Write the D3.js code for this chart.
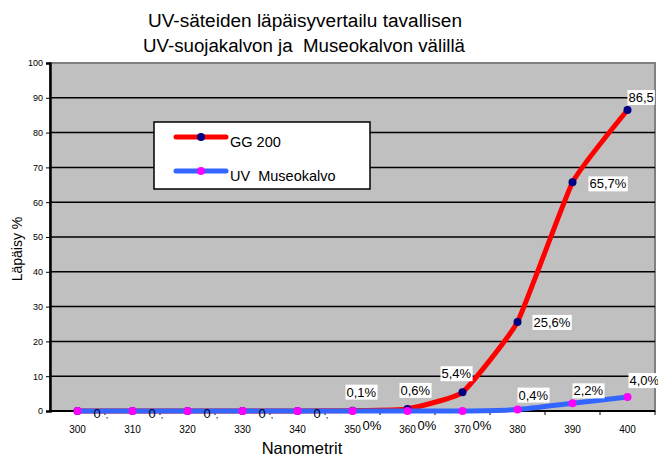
<!DOCTYPE html>
<html>
<head>
<meta charset="utf-8">
<script src="https://cdn.jsdelivr.net/npm/d3@7/dist/d3.min.js"></script>
<style>
    body { margin: 0; background: #fff; }
    svg { display: block; font-family: "Liberation Sans", Arial, sans-serif; }
    .tick-y { font-family: "Liberation Sans Narrow", "Liberation Sans", Arial, sans-serif; font-size: 9px; }
    .tick-x { font-size: 10px; }
</style>
</head>
<body>
<svg id="chart" width="658" height="456"></svg>
<script>
// wavelengths (nm)
var wavelengths = [300, 310, 320, 330, 340, 350, 360, 370, 380, 390, 400];
// GG 200 transmission %
var gg200 = [0, 0, 0, 0, 0, 0.1, 0.6, 5.4, 25.6, 65.7, 86.5];
var gg200Labels = ["0", "0", "0", "0", "0", "0,1%", "0,6%", "5,4%", "25,6%", "65,7%", "86,5"];
// UV Museokalvo transmission %
var museo = [0, 0, 0, 0, 0, 0, 0, 0, 0.4, 2.2, 4.0];
var museoLabels = ["", "", "", "", "", "0%", "0%", "0%", "0,4%", "2,2%", "4,0%"];
var yTicks = [0, 10, 20, 30, 40, 50, 60, 70, 80, 90, 100];

var svg = d3.select("#chart");
var margin = { left: 50, right: 3, top: 63, bottom: 45 };
var width = +svg.attr("width"), height = +svg.attr("height");

var x = d3.scaleBand()
    .domain(wavelengths)
    .range([margin.left, width - margin.right]);

var y = d3.scaleLinear()
    .domain([0, 100])
    .range([height - margin.bottom, margin.top]);

function cx(d) { return x(d) + x.bandwidth() / 2; }

// title
svg.append("text")
    .attr("x", 148).attr("y", 27)
    .attr("font-size", 18)
    .attr("textLength", 314)
    .attr("lengthAdjust", "spacingAndGlyphs")
    .text("UV-säteiden läpäisyvertailu tavallisen");
svg.append("text")
    .attr("x", 143).attr("y", 52)
    .attr("font-size", 18)
    .attr("textLength", 322)
    .attr("lengthAdjust", "spacingAndGlyphs")
    .style("white-space", "pre")
    .text("UV-suojakalvon ja  Museokalvon välillä");

// plot area
svg.append("rect")
    .attr("x", margin.left).attr("y", y(100))
    .attr("width", width - margin.right - margin.left)
    .attr("height", y(0) - y(100))
    .attr("fill", "#c0c0c0")
    .attr("stroke", "#808080")
    .attr("stroke-width", 2);

// gridlines
svg.append("g")
    .selectAll("line")
    .data(yTicks.filter(function (d) { return d > 0 && d < 100; }))
    .enter().append("line")
    .attr("x1", margin.left).attr("x2", width - margin.right)
    .attr("y1", function (d) { return y(d); })
    .attr("y2", function (d) { return y(d); })
    .attr("stroke", "#000")
    .attr("stroke-width", 1.5);

// y axis
var yAxis = svg.append("g")
    .attr("transform", "translate(" + margin.left + ",0)")
    .call(d3.axisLeft(y).tickValues(yTicks).tickSize(4).tickPadding(3));
yAxis.select(".domain").attr("stroke", "#000").attr("stroke-width", 2.5);
yAxis.selectAll(".tick line").attr("stroke", "#000");
yAxis.selectAll("text").attr("class", "tick-y").attr("fill", "#000");

// x axis: ticks between categories
var xAxisG = svg.append("g");
xAxisG.append("line")
    .attr("x1", margin.left).attr("x2", width - margin.right)
    .attr("y1", y(0)).attr("y2", y(0))
    .attr("stroke", "#000").attr("stroke-width", 2);
xAxisG.selectAll("line.tk")
    .data(wavelengths)
    .enter().append("line")
    .attr("class", "tk")
    .attr("x1", function (d) { return x(d) + x.bandwidth(); })
    .attr("x2", function (d) { return x(d) + x.bandwidth(); })
    .attr("y1", y(0)).attr("y2", y(0) + 4)
    .attr("stroke", "#000");
xAxisG.selectAll("text")
    .data(wavelengths)
    .enter().append("text")
    .attr("class", "tick-x")
    .attr("x", function (d) { return cx(d); })
    .attr("y", y(0) + 22)
    .attr("text-anchor", "middle")
    .text(function (d) { return d; });

// axis titles
svg.append("text")
    .attr("x", 302).attr("y", 454)
    .attr("text-anchor", "middle")
    .attr("font-size", 16.5)
    .text("Nanometrit");
svg.append("text")
    .attr("transform", "translate(22,249)rotate(-90)")
    .attr("text-anchor", "middle")
    .attr("font-size", 14)
    .text("Läpäisy %");

var line = d3.line()
    .x(function (d, i) { return cx(wavelengths[i]); })
    .y(function (d) { return y(d); })
    .curve(d3.curveCardinal.tension(0.6));

// label offsets relative to the point: [dx, dy of baseline]
var ggOffsets = [[16, 7], [16, 7], [16, 7], [16, 7], [16, 7], [-6, -14], [-7, -14], [-21, -14], [16, 5], [17, 6], [1, -8]];
var museoOffsets = [[0, 0], [0, 0], [0, 0], [0, 0], [0, 0], [10, 19], [10, 19], [10, 19], [1, -10], [1, -8], [2, -12]];

function drawSeries(values, color, markColor) {
    var g = svg.append("g");
    g.append("path")
        .attr("d", line(values))
        .attr("fill", "none")
        .attr("stroke", color)
        .attr("stroke-width", 5)
        .attr("stroke-linejoin", "round");
    g.selectAll("circle")
        .data(values)
        .enter().append("circle")
        .attr("cx", function (d, i) { return cx(wavelengths[i]); })
        .attr("cy", function (d) { return y(d); })
        .attr("r", 4)
        .attr("fill", markColor);
    return g;
}

function drawLabels(values, labels, offsets, boxedFrom) {
    var g = svg.append("g").attr("font-size", 13);
    values.forEach(function (v, i) {
        if (!labels[i]) return;
        var px = cx(wavelengths[i]) + offsets[i][0];
        var py = y(v) + offsets[i][1];
        var t = g.append("text").attr("x", px).attr("y", py).text(labels[i]);
        if (i >= boxedFrom) {
            var bb = t.node().getBBox();
            g.insert("rect", function () { return t.node(); })
                .attr("x", bb.x - 1).attr("y", bb.y)
                .attr("width", bb.width + 2).attr("height", bb.height)
                .attr("fill", "#fff");
        }
    });
}

drawSeries(gg200, "#ff0000", "#000080");
drawSeries(museo, "#3366ff", "#ff00ff");

// the zero labels of GG 200 are mostly covered, only "0" and a comma show
var zeroG = svg.append("g").attr("font-size", 13);
gg200.forEach(function (v, i) {
    if (gg200Labels[i] !== "0") return;
    var t = zeroG.append("text")
        .attr("x", cx(wavelengths[i]) + ggOffsets[i][0])
        .attr("y", y(v) + ggOffsets[i][1]);
    t.append("tspan").text("0");
    t.append("tspan").attr("dx", 5).attr("font-size", 9).text(",");
});

drawLabels(gg200, gg200Labels.map(function (d) { return d === "0" ? "" : d; }), ggOffsets, 0);
drawLabels(museo, museoLabels, museoOffsets, 8);

// legend
var legend = svg.append("g").attr("transform", "translate(154,122)");
legend.append("rect")
    .attr("width", 216).attr("height", 67)
    .attr("fill", "#fff")
    .attr("stroke", "#000")
    .attr("stroke-width", 1.5);
var legendItems = [
    { name: "GG 200", color: "#ff0000", mark: "#000080", y: 15 },
    { name: "UV  Museokalvo", color: "#3366ff", mark: "#ff00ff", y: 49 }
];
legendItems.forEach(function (d) {
    legend.append("line")
        .attr("x1", 22).attr("x2", 72)
        .attr("y1", d.y).attr("y2", d.y)
        .attr("stroke", d.color)
        .attr("stroke-width", 5)
        .attr("stroke-linecap", "round");
    legend.append("circle")
        .attr("cx", 47).attr("cy", d.y).attr("r", 4)
        .attr("fill", d.mark);
    legend.append("text")
        .attr("x", 76).attr("y", d.y + 10)
        .attr("font-size", 14.5)
        .style("white-space", "pre")
        .text(d.name);
});
</script>
</body>
</html>
